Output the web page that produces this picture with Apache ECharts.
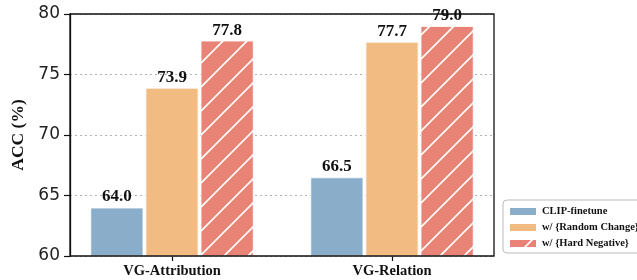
<!DOCTYPE html>
<html><head><meta charset="utf-8">
<script src="https://cdn.jsdelivr.net/npm/echarts@6/dist/echarts.min.js"></script>
<style>html,body{margin:0;padding:0;background:#fff}#c{width:637px;height:280px}</style>
</head><body><div id="c"></div>
<script>
const categories = ['VG-Attribution', 'VG-Relation'];
const seriesNames = ['CLIP-finetune', 'w/ {Random Change}', 'w/ {Hard Negative}'];
const clipFinetune = [64.0, 66.5];
const randomChange = [73.9, 77.7];
const hardNegative = [77.8, 79.0];
const yTicks = [60, 65, 70, 75, 80];

function hatch(bg) {
  const P = 24;
  const c = document.createElement('canvas');
  c.width = P; c.height = P;
  const g = c.getContext('2d');
  g.fillStyle = bg; g.fillRect(0, 0, P, P);
  g.strokeStyle = '#fff'; g.lineWidth = 1.6;
  g.beginPath();
  g.moveTo(-2, P + 2); g.lineTo(P + 2, -2);
  g.moveTo(-2, 2); g.lineTo(2, -2);
  g.moveTo(P - 2, P + 2); g.lineTo(P + 2, P - 2);
  g.stroke();
  return { image: c, repeat: 'repeat' };
}

const serif = 'Liberation Serif';
const chart = echarts.init(document.getElementById('c'), null, { renderer: 'canvas' });
const labelStyle = { show: true, position: 'top', distance: 2, fontFamily: serif, fontWeight: 'bold', fontSize: 17, color: '#111', formatter: p => p.value.toFixed(1) };
chart.setOption({
  animation: false,
  grid: [
    { left: 62, width: 440, top: 14, height: 242 },
    { left: 70, width: 424, top: 14, height: 242, show: true, borderColor: '#111', borderWidth: 1.3, backgroundColor: 'transparent', z: 5 }
  ],
  xAxis: [
    { type: 'category', gridIndex: 0, data: categories, boundaryGap: true,
      axisLine: { show: false },
      axisTick: { show: true, alignWithLabel: true, length: 5, lineStyle: { color: '#111', width: 1.2 } },
      axisLabel: { margin: 8, fontFamily: serif, fontWeight: 'bold', fontSize: 14.5, color: '#111' } },
    { type: 'value', gridIndex: 1, min: 0, max: 1, show: false }
  ],
  yAxis: [
    { type: 'value', gridIndex: 0, min: 60, max: 80, interval: 5, show: false, splitLine: { show: false } },
    { type: 'value', gridIndex: 1, min: yTicks[0], max: yTicks[yTicks.length - 1], interval: 5,
      name: 'ACC (%)', nameLocation: 'middle', nameGap: 38,
      nameTextStyle: { fontFamily: serif, fontWeight: 'bold', fontSize: 17.5, color: '#111' },
      axisLine: { show: true, lineStyle: { color: '#111', width: 1.3 } },
      axisTick: { show: true, length: 6, lineStyle: { color: '#111', width: 1.2 } },
      axisLabel: { margin: 10, fontFamily: 'DejaVu Sans', fontSize: 17, color: '#222' },
      splitLine: { show: true, lineStyle: { type: [2, 3], color: '#b3b3b3', width: 1 } } }
  ],
  legend: {
    orient: 'vertical', left: 503, top: 200, width: 124,
    padding: [6, 4, 4, 5], itemGap: 5, itemWidth: 28, itemHeight: 9,
    borderColor: '#bbb', borderWidth: 1, borderRadius: 4,
    textStyle: { fontFamily: serif, fontWeight: 'bold', fontSize: 10.5, color: '#111' },
    data: seriesNames.map(n => ({ name: n, icon: 'rect' }))
  },
  series: [
    { name: seriesNames[0], type: 'bar', data: clipFinetune, barWidth: 53, barGap: '4%', xAxisIndex: 0, yAxisIndex: 0,
      itemStyle: { color: '#8aaec9', borderColor: '#fff', borderWidth: 0.8 }, label: labelStyle },
    { name: seriesNames[1], type: 'bar', data: randomChange, barWidth: 53, barGap: '4%', xAxisIndex: 0, yAxisIndex: 0,
      itemStyle: { color: '#f2bb82', borderColor: '#fff', borderWidth: 0.8 }, label: labelStyle },
    { name: seriesNames[2], type: 'bar', data: hardNegative, barWidth: 53, barGap: '4%', xAxisIndex: 0, yAxisIndex: 0,
      itemStyle: { color: hatch('#e88376'), borderColor: '#fff', borderWidth: 0.8 }, label: labelStyle }
  ]
});
</script></body></html>
